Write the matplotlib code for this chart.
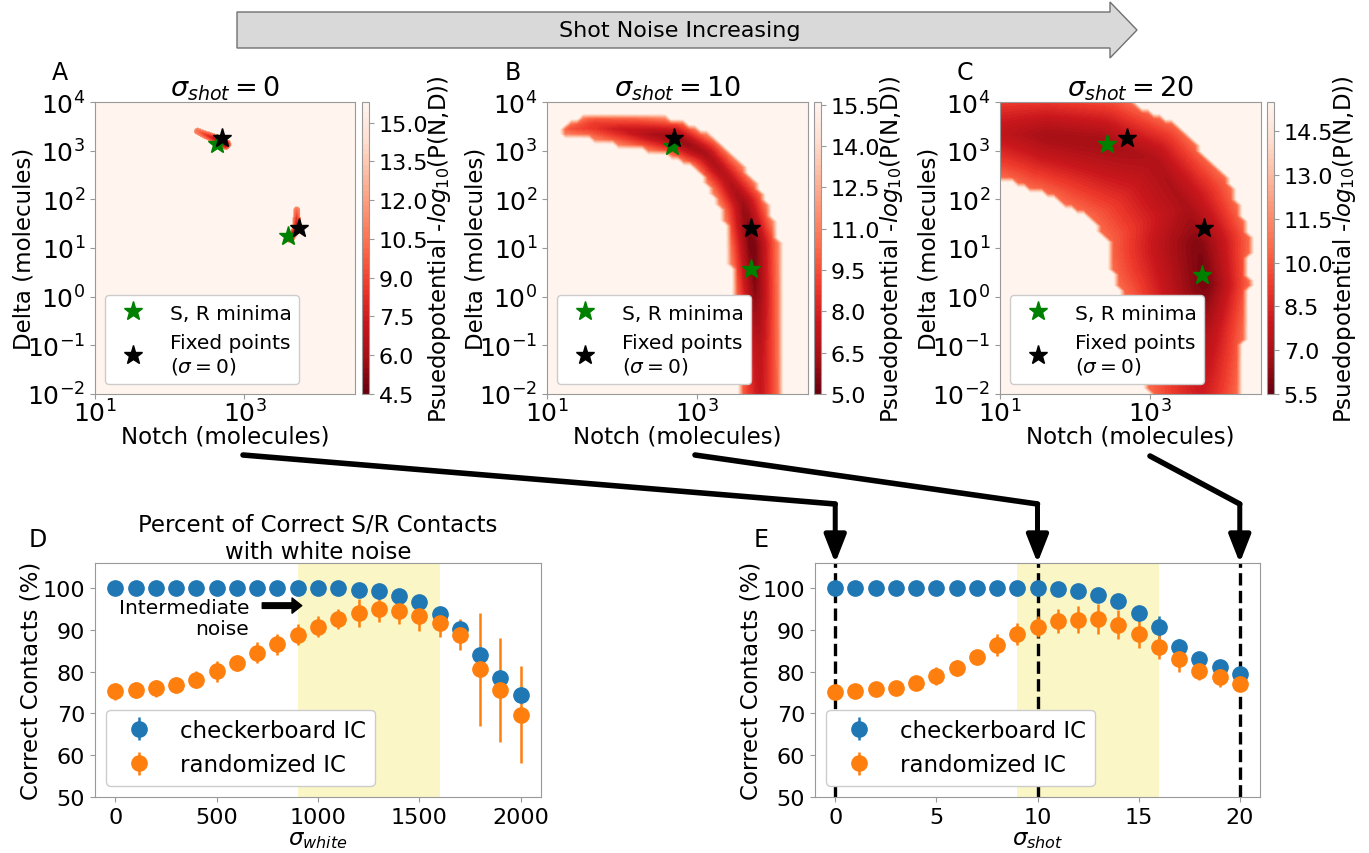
import numpy as np
import matplotlib
matplotlib.use("Agg")
import matplotlib.pyplot as plt
from matplotlib.patches import Polygon, FancyArrowPatch
from matplotlib.lines import Line2D

plt.rcParams['font.family'] = ['DejaVu Sans']
plt.rcParams['mathtext.fontset'] = 'dejavusans'
plt.rcParams['axes.edgecolor'] = '#999999'
plt.rcParams['xtick.color'] = '#999999'
plt.rcParams['ytick.color'] = '#999999'
plt.rcParams['xtick.labelcolor'] = 'black'
plt.rcParams['ytick.labelcolor'] = 'black'

# ---------------- data: panel D (white noise) ----------------
sigma_white = [0, 100, 200, 300, 400, 500, 600, 700, 800, 900, 1000,
               1100, 1200, 1300, 1400, 1500, 1600, 1700, 1800, 1900, 2000]
white_checker = [100, 100, 100, 100, 100, 100, 100, 100, 100, 100, 100,
                 100, 99.6, 99.3, 98.2, 96.6, 93.8, 90.1, 84.0, 78.4, 74.5]
white_checker_err = [0.3, 0.3, 0.3, 0.3, 0.3, 0.3, 0.3, 0.3, 0.3, 0.3, 0.3,
                     0.3, 0.4, 0.5, 0.8, 1.2, 1.5, 1.8, 1.5, 1.5, 1.5]
white_random = [75.3, 75.6, 76.0, 76.8, 78.1, 80.1, 82.1, 84.5, 86.6, 88.8, 90.8,
                92.6, 94.0, 95.0, 94.6, 93.2, 91.6, 88.8, 80.6, 75.6, 69.7]
white_random_err = [2.0, 2.0, 2.0, 2.0, 2.0, 2.5, 2.0, 2.5, 2.5, 2.5, 2.5,
                    2.5, 3.3, 3.0, 3.2, 3.5, 3.3, 3.7, 13.5, 12.4, 11.6]
white_band = [900, 1600]

# ---------------- data: panel E (shot noise) ----------------
sigma_shot = [0, 1, 2, 3, 4, 5, 6, 7, 8, 9, 10,
              11, 12, 13, 14, 15, 16, 17, 18, 19, 20]
shot_checker = [100, 100, 100, 100, 100, 100, 100, 100, 100, 100, 100,
                99.7, 99.3, 98.4, 97.0, 94.0, 90.6, 85.8, 83.1, 81.2, 79.4]
shot_checker_err = [0.3, 0.3, 0.3, 0.3, 0.3, 0.3, 0.3, 0.3, 0.3, 0.3, 0.3,
                    0.5, 0.6, 0.8, 1.0, 1.8, 2.8, 2.0, 1.5, 1.5, 1.2]
shot_random = [75.2, 75.4, 75.8, 76.2, 77.3, 79.0, 80.9, 83.6, 86.4, 89.0, 90.8,
               92.2, 92.4, 92.6, 91.2, 89.0, 86.0, 83.0, 80.2, 78.8, 77.1]
shot_random_err = [1.5, 1.5, 1.5, 1.5, 1.5, 2.2, 2.0, 1.5, 2.6, 2.7, 2.5,
                   2.9, 3.2, 3.6, 3.5, 3.3, 3.0, 3.0, 2.3, 2.5, 1.5]
shot_band = [9, 16]
shot_panels = [0, 10, 20]

# ---------------- data: panels A-C (pseudopotential landscapes) ----------------
fixed_N = [500, 5300]
fixed_D = [1780, 26]
minima_N_A = [436, 3800]
minima_D_A = [1380, 18]
minima_N_B = [468, 5250]
minima_D_B = [1230, 3.7]
minima_N_C = [270, 5000]
minima_D_C = [1380, 2.8]

# ridges of low pseudopotential: log10 N, log10 D, outer/inner half width
# (in pixels of a 260-px panel), pseudopotential along the ridge
ridgeA1_logN = [2.37, 2.67, 2.75]
ridgeA1_logD = [3.40, 3.20, 3.13]
ridgeA1_wout = [4, 6, 6]
ridgeA1_win = [4, 6, 6]
ridgeA1_U = [10.0, 5.5, 4.5]
ridgeA2_logN = [3.70, 3.70, 3.61]
ridgeA2_logD = [1.78, 1.39, 1.20]
ridgeA2_wout = [4, 5, 5]
ridgeA2_win = [4, 5, 5]
ridgeA2_U = [10.0, 5.5, 4.5]

ridgeB_logN = [1.27, 1.60, 2.20, 2.71, 3.12, 3.41, 3.62, 3.73, 3.78, 3.82, 3.84]
ridgeB_logD = [3.44, 3.50, 3.38, 3.26, 2.93, 2.41, 1.90, 1.08, 0.05, -1.18, -2.31]
ridgeB_wout = [6, 13, 17, 19, 18, 20, 23, 27, 24, 22, 22]
ridgeB_win = [6, 13, 17, 19, 18, 20, 22, 23, 22, 22, 22]
ridgeB_U = [9.5, 8.5, 7.0, 5.6, 6.3, 6.8, 6.0, 5.0, 5.6, 7.0, 7.5]

ridgeC_logN = [0.87, 1.62, 2.34, 3.03, 3.49, 3.65, 3.74, 3.74, 3.68]
ridgeC_logD = [3.38, 3.30, 3.17, 2.83, 1.86, 1.04, 0.26, -0.77, -2.21]
ridgeC_wout = [50, 50, 50, 42, 48, 51, 44, 38, 36]
ridgeC_win = [42, 56, 72, 85, 85, 90, 80, 70, 50]
ridgeC_U = [7.8, 6.8, 6.7, 7.1, 7.0, 6.0, 5.8, 7.2, 8.2]

cbar_ticks_A = [4.5, 6.0, 7.5, 9.0, 10.5, 12.0, 13.5, 15.0]
cbar_ticks_B = [5.0, 6.5, 8.0, 9.5, 11.0, 12.5, 14.0, 15.5]
cbar_ticks_C = [5.5, 7.0, 8.5, 10.0, 11.5, 13.0, 14.5]
U_range_A = [4.5, 15.8]
U_range_B = [5.0, 15.6]
U_range_C = [5.5, 15.5]

LOGN_LIM = (1.0, 4.48)
LOGD_LIM = (-2.0, 4.0)

W, H = 1369, 854
fig = plt.figure(figsize=(W / 100, H / 100), dpi=100)


def frac(x0, y0, x1, y1):
    return [x0 / W, 1 - y1 / H, (x1 - x0) / W, (y1 - y0) / H]


PANEL_W, PANEL_H = 260.0, 292.0


def landscape(ridges, nu, nv, edge, top):
    u = np.linspace(LOGN_LIM[0], LOGN_LIM[1], nu)
    v = np.linspace(LOGD_LIM[0], LOGD_LIM[1], nv)
    UU, VV = np.meshgrid(u, v)
    X = (UU - LOGN_LIM[0]) / (LOGN_LIM[1] - LOGN_LIM[0]) * PANEL_W
    Y = (VV - LOGD_LIM[0]) / (LOGD_LIM[1] - LOGD_LIM[0]) * PANEL_H
    Z = np.full(UU.shape, np.inf)
    for ku, kv, wo, wi, dep in ridges:
        ku, kv = np.asarray(ku, float), np.asarray(kv, float)
        wo, wi, dep = np.asarray(wo, float), np.asarray(wi, float), np.asarray(dep, float)
        kx = (ku - LOGN_LIM[0]) / (LOGN_LIM[1] - LOGN_LIM[0]) * PANEL_W
        ky = (kv - LOGD_LIM[0]) / (LOGD_LIM[1] - LOGD_LIM[0]) * PANEL_H
        for i in range(len(kx) - 1):
            dx, dy = kx[i + 1] - kx[i], ky[i + 1] - ky[i]
            L2 = dx * dx + dy * dy
            t = np.clip(((X - kx[i]) * dx + (Y - ky[i]) * dy) / L2, 0, 1)
            px, py = kx[i] + t * dx, ky[i] + t * dy
            d = np.hypot(X - px, Y - py)
            cross = dx * (Y - ky[i]) - dy * (X - kx[i])
            w_o = wo[i] + t * (wo[i + 1] - wo[i])
            w_i = wi[i] + t * (wi[i + 1] - wi[i])
            w = np.where(cross > 0, w_o, w_i)
            depth = dep[i] + t * (dep[i + 1] - dep[i])
            r = d / w
            val = np.where(r < 1, depth + (edge - depth) * r ** 1.3, np.inf)
            Z = np.minimum(Z, val)
    Z = np.minimum(Z, top)
    return 10 ** UU, 10 ** VV, Z


def heat_panel(rect, crect, ridges, nu, nv, edge, urange, ticks, mN, mD, title):
    ax = fig.add_axes(rect)
    N, D, Z = landscape(ridges, nu, nv, edge, urange[1])
    Z = np.maximum(Z, urange[0])
    levels = np.linspace(urange[0], urange[1], 57)
    cs = ax.contourf(N, D, Z, levels=levels, cmap='Reds_r')
    ax.set_xscale('log')
    ax.set_yscale('log')
    ax.set_xlim(10 ** LOGN_LIM[0], 10 ** LOGN_LIM[1])
    ax.set_ylim(10 ** LOGD_LIM[0], 10 ** LOGD_LIM[1])
    ax.set_xticks([1e1, 1e3])
    ax.set_yticks([1e-2, 1e-1, 1e0, 1e1, 1e2, 1e3, 1e4])
    ax.tick_params(labelsize=18)
    ax.tick_params(axis='x', pad=0.5)
    ax.plot(mN, mD, ls='none', marker='*', color='green', ms=14, label='S, R minima')
    ax.plot(fixed_N, fixed_D, ls='none', marker='*', color='black', ms=14,
            label='Fixed points\n($\\sigma=0$)')
    ax.legend(loc='lower left', fontsize=14.5, framealpha=1)
    ax.set_xlabel('Notch (molecules)', fontsize=16.5, labelpad=-1.5)
    ax.set_ylabel('Delta (molecules)', fontsize=16.5, labelpad=-6)
    ax.set_title(title, fontsize=19.5, pad=2)
    cax = fig.add_axes(crect)
    cb = fig.colorbar(cs, cax=cax, ticks=ticks)
    cb.ax.set_yticklabels(['%.1f' % t for t in ticks])
    cb.ax.tick_params(labelsize=16)
    cb.outline.set_edgecolor('#999999')
    cb.set_label('Psuedopotential -$log_{10}$(P(N,D))', fontsize=16.5, labelpad=-2)
    return ax


ridgesA = [(ridgeA1_logN, ridgeA1_logD, ridgeA1_wout, ridgeA1_win, ridgeA1_U),
           (ridgeA2_logN, ridgeA2_logD, ridgeA2_wout, ridgeA2_win, ridgeA2_U)]
ridgesB = [(ridgeB_logN, ridgeB_logD, ridgeB_wout, ridgeB_win, ridgeB_U)]
ridgesC = [(ridgeC_logN, ridgeC_logD, ridgeC_wout, ridgeC_win, ridgeC_U)]

heat_panel(frac(95, 103, 355, 395), frac(362, 103, 369, 395), ridgesA, 300, 300, 11.5,
           U_range_A, cbar_ticks_A, minima_N_A, minima_D_A, '$\\sigma_{shot} = 0$')
heat_panel(frac(547, 103, 808, 395), frac(814, 103, 821, 395), ridgesB, 45, 55, 11.0,
           U_range_B, cbar_ticks_B, minima_N_B, minima_D_B, '$\\sigma_{shot} = 10$')
heat_panel(frac(1000, 103, 1261, 395), frac(1267, 103, 1274, 395), ridgesC, 45, 55, 10.5,
           U_range_C, cbar_ticks_C, minima_N_C, minima_D_C, '$\\sigma_{shot} = 20$')

BLUE, ORANGE = '#1f77b4', '#ff7f0e'
SHADE = '#faf6c6'


def contact_panel(rect, x, yc, ec, yr, er, band, xlabel, xticks, xlim):
    ax = fig.add_axes(rect)
    ax.axvspan(band[0], band[1], color=SHADE, zorder=0, lw=0)
    ax.errorbar(x, yc, yerr=ec, fmt='o', color=BLUE, ms=11, elinewidth=1.8,
                label='checkerboard IC', zorder=3)
    ax.errorbar(x, yr, yerr=er, fmt='o', color=ORANGE, ms=11, elinewidth=1.8,
                label='randomized IC', zorder=3)
    ax.set_ylim(50, 106)
    ax.set_xlim(*xlim)
    ax.set_yticks([50, 60, 70, 80, 90, 100])
    ax.set_xticks(xticks)
    ax.tick_params(labelsize=16)
    ax.set_ylabel('Correct Contacts (%)', fontsize=16.5, labelpad=0)
    ax.set_xlabel(xlabel, fontsize=16.5, labelpad=0)
    ax.legend(loc='lower left', fontsize=16.5, framealpha=1).set_zorder(5)
    return ax


axD = contact_panel(frac(95, 564, 541, 798), sigma_white, white_checker, white_checker_err,
                    white_random, white_random_err, white_band, '$\\sigma_{white}$',
                    [0, 500, 1000, 1500, 2000], (-100, 2100))
axD.set_title('Percent of Correct S/R Contacts\nwith white noise', fontsize=16.5, pad=2)
axD.text(660, 92.8, 'Intermediate\nnoise', ha='right', va='center', fontsize=14.5,
         multialignment='right', linespacing=1.1)
axD.annotate('', xy=(920, 95.8), xytext=(725, 95.8),
             arrowprops=dict(facecolor='black', edgecolor='black', width=4,
                             headwidth=11, headlength=7))

axE = contact_panel(frac(815, 564, 1260, 798), sigma_shot, shot_checker, shot_checker_err,
                    shot_random, shot_random_err, shot_band, '$\\sigma_{shot}$',
                    [0, 5, 10, 15, 20], (-1, 21))
for s in shot_panels:
    axE.axvline(s, color='black', ls='--', lw=2.4, zorder=1)

# panel letters
for letter, (px, py) in zip('ABCDE', [(60, 73), (513, 73), (965, 73), (38, 540), (761, 540)]):
    fig.text(px / W, 1 - py / H, letter, fontsize=17, ha='center', va='center')

# top arrow
arrow_px = [(237, 13), (1110, 13), (1110, 3), (1137, 31), (1110, 59), (1110, 49), (237, 49)]
fig.add_artist(Polygon([(x / W, 1 - y / H) for x, y in arrow_px], closed=True,
                       transform=fig.transFigure, facecolor='#d9d9d9',
                       edgecolor='#707070', lw=1))
fig.text(680 / W, 1 - 31 / H, 'Shot Noise Increasing', fontsize=16, ha='center', va='center')

# connectors from heat maps to panel E
fig.canvas.draw()
inv = fig.transFigure.inverted()
conn_starts = [(243, 456), (695, 456), (1150, 457)]
corner_y = 505
top_E = axE.get_position().y1
for (sx, sy), s in zip(conn_starts, shot_panels):
    xd = axE.transData.transform((s, 60))[0]
    xf = inv.transform((xd, 0))[0]
    cy = 1 - corner_y / H
    fig.add_artist(Line2D([sx / W, xf], [1 - sy / H, cy], transform=fig.transFigure,
                          color='black', lw=4, solid_capstyle='round',
                          solid_joinstyle='round'))
    fig.add_artist(FancyArrowPatch((xf, cy), (xf, top_E), transform=fig.transFigure,
                                   arrowstyle='-|>,head_length=1.4,head_width=0.55',
                                   mutation_scale=12, lw=3.6, color='black',
                                   shrinkA=0, shrinkB=0, capstyle='round'))

fig.savefig('out.png', dpi=100)
